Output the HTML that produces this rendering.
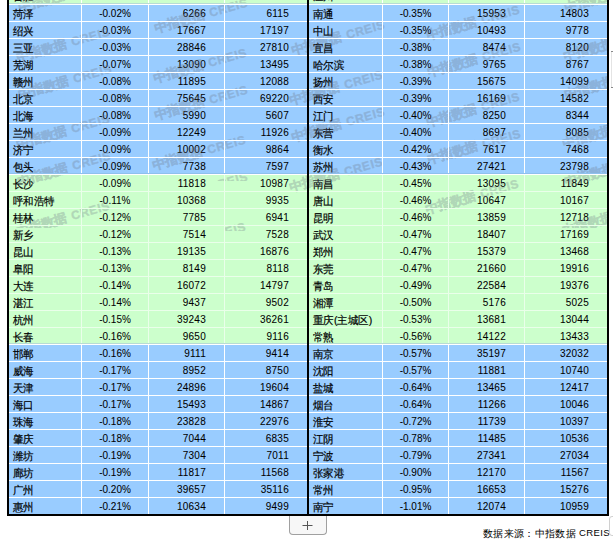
<!DOCTYPE html>
<html><head><meta charset="utf-8">
<style>
html,body{margin:0;padding:0;background:#fff;width:613px;height:542px;overflow:hidden;position:relative;font-family:"Liberation Sans",sans-serif;}
.grid{position:absolute;left:9px;top:0;width:598px;height:514px;background:#fff;}
.cell{position:absolute;overflow:hidden;color:#000;white-space:nowrap;}
.cell span{position:absolute;}
.c0 span{left:4px;top:3px;font-size:11px;letter-spacing:0;line-height:13px;-webkit-text-stroke:0.2px #000;transform:scaleX(0.95);transform-origin:0 0;}
.c1 span{left:0;right:0;text-align:center;top:3px;font-size:10px;line-height:12px;letter-spacing:0;-webkit-text-stroke:0.05px #000;}
.c2 span{right:18px;top:3px;font-size:10px;line-height:12px;letter-spacing:0.25px;-webkit-text-stroke:0.05px #000;}
.bl{position:absolute;background:#000;}
.wmbox{position:absolute;left:0;top:0;width:607px;height:228px;overflow:hidden;opacity:0.28;}
.wm{position:absolute;font-size:12px;line-height:16px;font-weight:bold;white-space:nowrap;color:#6a7282;-webkit-text-stroke:0.35px #6a7282;transform-origin:61.3px 7px;transform:rotate(-16deg);}
.wz{font-size:13px;margin-right:5px;letter-spacing:0;}
.wm{letter-spacing:0.6px;}
.plus{position:absolute;left:289px;top:516px;width:38px;height:19px;box-sizing:border-box;border:1px solid #a0a0a0;border-top:none;border-radius:0 0 4px 4px;background:#f7f7f7;}
.src{position:absolute;line-height:13px;color:#000;white-space:nowrap;}
</style></head><body>
<div class="grid"></div><div style="position:absolute;left:9px;top:175px;width:598px;height:169px;background:#eaffea"></div>
<div class="cell c0" style="left:9px;top:-13px;width:72px;height:17px;background:#ccffcc"><span>合肥</span></div><div class="cell c1" style="left:82px;top:-13px;width:66px;height:17px;background:#ccffcc"><span></span></div><div class="cell c2" style="left:149px;top:-13px;width:75px;height:17px;background:#ccffcc"><span></span></div><div class="cell c2" style="left:225px;top:-13px;width:82px;height:17px;background:#ccffcc"><span></span></div><div class="cell c0" style="left:309px;top:-13px;width:73px;height:17px;background:#ccffcc"><span>温州</span></div><div class="cell c1" style="left:383px;top:-13px;width:65px;height:17px;background:#ccffcc"><span></span></div><div class="cell c2" style="left:449px;top:-13px;width:75px;height:17px;background:#ccffcc"><span></span></div><div class="cell c2" style="left:525px;top:-13px;width:82px;height:17px;background:#ccffcc"><span></span></div><div class="cell c0" style="left:9px;top:5px;width:72px;height:16px;background:#99ccff"><span>菏泽</span></div><div class="cell c1" style="left:82px;top:5px;width:66px;height:16px;background:#99ccff"><span>-0.02%</span></div><div class="cell c2" style="left:149px;top:5px;width:75px;height:16px;background:#99ccff"><span>6266</span></div><div class="cell c2" style="left:225px;top:5px;width:82px;height:16px;background:#99ccff"><span>6115</span></div><div class="cell c0" style="left:309px;top:5px;width:73px;height:16px;background:#99ccff"><span>南通</span></div><div class="cell c1" style="left:383px;top:5px;width:65px;height:16px;background:#99ccff"><span>-0.35%</span></div><div class="cell c2" style="left:449px;top:5px;width:75px;height:16px;background:#99ccff"><span>15953</span></div><div class="cell c2" style="left:525px;top:5px;width:82px;height:16px;background:#99ccff"><span>14803</span></div><div class="cell c0" style="left:9px;top:22px;width:72px;height:16px;background:#99ccff"><span>绍兴</span></div><div class="cell c1" style="left:82px;top:22px;width:66px;height:16px;background:#99ccff"><span>-0.03%</span></div><div class="cell c2" style="left:149px;top:22px;width:75px;height:16px;background:#99ccff"><span>17667</span></div><div class="cell c2" style="left:225px;top:22px;width:82px;height:16px;background:#99ccff"><span>17197</span></div><div class="cell c0" style="left:309px;top:22px;width:73px;height:16px;background:#99ccff"><span>中山</span></div><div class="cell c1" style="left:383px;top:22px;width:65px;height:16px;background:#99ccff"><span>-0.35%</span></div><div class="cell c2" style="left:449px;top:22px;width:75px;height:16px;background:#99ccff"><span>10493</span></div><div class="cell c2" style="left:525px;top:22px;width:82px;height:16px;background:#99ccff"><span>9778</span></div><div class="cell c0" style="left:9px;top:39px;width:72px;height:16px;background:#99ccff"><span>三亚</span></div><div class="cell c1" style="left:82px;top:39px;width:66px;height:16px;background:#99ccff"><span>-0.03%</span></div><div class="cell c2" style="left:149px;top:39px;width:75px;height:16px;background:#99ccff"><span>28846</span></div><div class="cell c2" style="left:225px;top:39px;width:82px;height:16px;background:#99ccff"><span>27810</span></div><div class="cell c0" style="left:309px;top:39px;width:73px;height:16px;background:#99ccff"><span>宜昌</span></div><div class="cell c1" style="left:383px;top:39px;width:65px;height:16px;background:#99ccff"><span>-0.38%</span></div><div class="cell c2" style="left:449px;top:39px;width:75px;height:16px;background:#99ccff"><span>8474</span></div><div class="cell c2" style="left:525px;top:39px;width:82px;height:16px;background:#99ccff"><span>8120</span></div><div class="cell c0" style="left:9px;top:56px;width:72px;height:16px;background:#99ccff"><span>芜湖</span></div><div class="cell c1" style="left:82px;top:56px;width:66px;height:16px;background:#99ccff"><span>-0.07%</span></div><div class="cell c2" style="left:149px;top:56px;width:75px;height:16px;background:#99ccff"><span>13090</span></div><div class="cell c2" style="left:225px;top:56px;width:82px;height:16px;background:#99ccff"><span>13495</span></div><div class="cell c0" style="left:309px;top:56px;width:73px;height:16px;background:#99ccff"><span>哈尔滨</span></div><div class="cell c1" style="left:383px;top:56px;width:65px;height:16px;background:#99ccff"><span>-0.38%</span></div><div class="cell c2" style="left:449px;top:56px;width:75px;height:16px;background:#99ccff"><span>9765</span></div><div class="cell c2" style="left:525px;top:56px;width:82px;height:16px;background:#99ccff"><span>8767</span></div><div class="cell c0" style="left:9px;top:73px;width:72px;height:16px;background:#99ccff"><span>赣州</span></div><div class="cell c1" style="left:82px;top:73px;width:66px;height:16px;background:#99ccff"><span>-0.08%</span></div><div class="cell c2" style="left:149px;top:73px;width:75px;height:16px;background:#99ccff"><span>11895</span></div><div class="cell c2" style="left:225px;top:73px;width:82px;height:16px;background:#99ccff"><span>12088</span></div><div class="cell c0" style="left:309px;top:73px;width:73px;height:16px;background:#99ccff"><span>扬州</span></div><div class="cell c1" style="left:383px;top:73px;width:65px;height:16px;background:#99ccff"><span>-0.39%</span></div><div class="cell c2" style="left:449px;top:73px;width:75px;height:16px;background:#99ccff"><span>15675</span></div><div class="cell c2" style="left:525px;top:73px;width:82px;height:16px;background:#99ccff"><span>14099</span></div><div class="cell c0" style="left:9px;top:90px;width:72px;height:16px;background:#99ccff"><span>北京</span></div><div class="cell c1" style="left:82px;top:90px;width:66px;height:16px;background:#99ccff"><span>-0.08%</span></div><div class="cell c2" style="left:149px;top:90px;width:75px;height:16px;background:#99ccff"><span>75645</span></div><div class="cell c2" style="left:225px;top:90px;width:82px;height:16px;background:#99ccff"><span>69220</span></div><div class="cell c0" style="left:309px;top:90px;width:73px;height:16px;background:#99ccff"><span>西安</span></div><div class="cell c1" style="left:383px;top:90px;width:65px;height:16px;background:#99ccff"><span>-0.39%</span></div><div class="cell c2" style="left:449px;top:90px;width:75px;height:16px;background:#99ccff"><span>16169</span></div><div class="cell c2" style="left:525px;top:90px;width:82px;height:16px;background:#99ccff"><span>14582</span></div><div class="cell c0" style="left:9px;top:107px;width:72px;height:16px;background:#99ccff"><span>北海</span></div><div class="cell c1" style="left:82px;top:107px;width:66px;height:16px;background:#99ccff"><span>-0.08%</span></div><div class="cell c2" style="left:149px;top:107px;width:75px;height:16px;background:#99ccff"><span>5990</span></div><div class="cell c2" style="left:225px;top:107px;width:82px;height:16px;background:#99ccff"><span>5607</span></div><div class="cell c0" style="left:309px;top:107px;width:73px;height:16px;background:#99ccff"><span>江门</span></div><div class="cell c1" style="left:383px;top:107px;width:65px;height:16px;background:#99ccff"><span>-0.40%</span></div><div class="cell c2" style="left:449px;top:107px;width:75px;height:16px;background:#99ccff"><span>8250</span></div><div class="cell c2" style="left:525px;top:107px;width:82px;height:16px;background:#99ccff"><span>8344</span></div><div class="cell c0" style="left:9px;top:124px;width:72px;height:16px;background:#99ccff"><span>兰州</span></div><div class="cell c1" style="left:82px;top:124px;width:66px;height:16px;background:#99ccff"><span>-0.09%</span></div><div class="cell c2" style="left:149px;top:124px;width:75px;height:16px;background:#99ccff"><span>12249</span></div><div class="cell c2" style="left:225px;top:124px;width:82px;height:16px;background:#99ccff"><span>11926</span></div><div class="cell c0" style="left:309px;top:124px;width:73px;height:16px;background:#99ccff"><span>东营</span></div><div class="cell c1" style="left:383px;top:124px;width:65px;height:16px;background:#99ccff"><span>-0.40%</span></div><div class="cell c2" style="left:449px;top:124px;width:75px;height:16px;background:#99ccff"><span>8697</span></div><div class="cell c2" style="left:525px;top:124px;width:82px;height:16px;background:#99ccff"><span>8085</span></div><div class="cell c0" style="left:9px;top:141px;width:72px;height:16px;background:#99ccff"><span>济宁</span></div><div class="cell c1" style="left:82px;top:141px;width:66px;height:16px;background:#99ccff"><span>-0.09%</span></div><div class="cell c2" style="left:149px;top:141px;width:75px;height:16px;background:#99ccff"><span>10002</span></div><div class="cell c2" style="left:225px;top:141px;width:82px;height:16px;background:#99ccff"><span>9864</span></div><div class="cell c0" style="left:309px;top:141px;width:73px;height:16px;background:#99ccff"><span>衡水</span></div><div class="cell c1" style="left:383px;top:141px;width:65px;height:16px;background:#99ccff"><span>-0.42%</span></div><div class="cell c2" style="left:449px;top:141px;width:75px;height:16px;background:#99ccff"><span>7617</span></div><div class="cell c2" style="left:525px;top:141px;width:82px;height:16px;background:#99ccff"><span>7468</span></div><div class="cell c0" style="left:9px;top:158px;width:72px;height:16px;background:#99ccff"><span>包头</span></div><div class="cell c1" style="left:82px;top:158px;width:66px;height:16px;background:#99ccff"><span>-0.09%</span></div><div class="cell c2" style="left:149px;top:158px;width:75px;height:16px;background:#99ccff"><span>7738</span></div><div class="cell c2" style="left:225px;top:158px;width:82px;height:16px;background:#99ccff"><span>7597</span></div><div class="cell c0" style="left:309px;top:158px;width:73px;height:16px;background:#99ccff"><span>苏州</span></div><div class="cell c1" style="left:383px;top:158px;width:65px;height:16px;background:#99ccff"><span>-0.43%</span></div><div class="cell c2" style="left:449px;top:158px;width:75px;height:16px;background:#99ccff"><span>27421</span></div><div class="cell c2" style="left:525px;top:158px;width:82px;height:16px;background:#99ccff"><span>23798</span></div><div class="cell c0" style="left:9px;top:175px;width:72px;height:16px;background:#ccffcc"><span>长沙</span></div><div class="cell c1" style="left:82px;top:175px;width:66px;height:16px;background:#ccffcc"><span>-0.09%</span></div><div class="cell c2" style="left:149px;top:175px;width:75px;height:16px;background:#ccffcc"><span>11818</span></div><div class="cell c2" style="left:225px;top:175px;width:82px;height:16px;background:#ccffcc"><span>10987</span></div><div class="cell c0" style="left:309px;top:175px;width:73px;height:16px;background:#ccffcc"><span>南昌</span></div><div class="cell c1" style="left:383px;top:175px;width:65px;height:16px;background:#ccffcc"><span>-0.45%</span></div><div class="cell c2" style="left:449px;top:175px;width:75px;height:16px;background:#ccffcc"><span>13095</span></div><div class="cell c2" style="left:525px;top:175px;width:82px;height:16px;background:#ccffcc"><span>11849</span></div><div class="cell c0" style="left:9px;top:192px;width:72px;height:16px;background:#ccffcc"><span>呼和浩特</span></div><div class="cell c1" style="left:82px;top:192px;width:66px;height:16px;background:#ccffcc"><span>-0.11%</span></div><div class="cell c2" style="left:149px;top:192px;width:75px;height:16px;background:#ccffcc"><span>10368</span></div><div class="cell c2" style="left:225px;top:192px;width:82px;height:16px;background:#ccffcc"><span>9935</span></div><div class="cell c0" style="left:309px;top:192px;width:73px;height:16px;background:#ccffcc"><span>唐山</span></div><div class="cell c1" style="left:383px;top:192px;width:65px;height:16px;background:#ccffcc"><span>-0.46%</span></div><div class="cell c2" style="left:449px;top:192px;width:75px;height:16px;background:#ccffcc"><span>10647</span></div><div class="cell c2" style="left:525px;top:192px;width:82px;height:16px;background:#ccffcc"><span>10167</span></div><div class="cell c0" style="left:9px;top:209px;width:72px;height:16px;background:#ccffcc"><span>桂林</span></div><div class="cell c1" style="left:82px;top:209px;width:66px;height:16px;background:#ccffcc"><span>-0.12%</span></div><div class="cell c2" style="left:149px;top:209px;width:75px;height:16px;background:#ccffcc"><span>7785</span></div><div class="cell c2" style="left:225px;top:209px;width:82px;height:16px;background:#ccffcc"><span>6941</span></div><div class="cell c0" style="left:309px;top:209px;width:73px;height:16px;background:#ccffcc"><span>昆明</span></div><div class="cell c1" style="left:383px;top:209px;width:65px;height:16px;background:#ccffcc"><span>-0.46%</span></div><div class="cell c2" style="left:449px;top:209px;width:75px;height:16px;background:#ccffcc"><span>13859</span></div><div class="cell c2" style="left:525px;top:209px;width:82px;height:16px;background:#ccffcc"><span>12718</span></div><div class="cell c0" style="left:9px;top:226px;width:72px;height:16px;background:#ccffcc"><span>新乡</span></div><div class="cell c1" style="left:82px;top:226px;width:66px;height:16px;background:#ccffcc"><span>-0.12%</span></div><div class="cell c2" style="left:149px;top:226px;width:75px;height:16px;background:#ccffcc"><span>7514</span></div><div class="cell c2" style="left:225px;top:226px;width:82px;height:16px;background:#ccffcc"><span>7528</span></div><div class="cell c0" style="left:309px;top:226px;width:73px;height:16px;background:#ccffcc"><span>武汉</span></div><div class="cell c1" style="left:383px;top:226px;width:65px;height:16px;background:#ccffcc"><span>-0.47%</span></div><div class="cell c2" style="left:449px;top:226px;width:75px;height:16px;background:#ccffcc"><span>18407</span></div><div class="cell c2" style="left:525px;top:226px;width:82px;height:16px;background:#ccffcc"><span>17169</span></div><div class="cell c0" style="left:9px;top:243px;width:72px;height:16px;background:#ccffcc"><span>昆山</span></div><div class="cell c1" style="left:82px;top:243px;width:66px;height:16px;background:#ccffcc"><span>-0.13%</span></div><div class="cell c2" style="left:149px;top:243px;width:75px;height:16px;background:#ccffcc"><span>19135</span></div><div class="cell c2" style="left:225px;top:243px;width:82px;height:16px;background:#ccffcc"><span>16876</span></div><div class="cell c0" style="left:309px;top:243px;width:73px;height:16px;background:#ccffcc"><span>郑州</span></div><div class="cell c1" style="left:383px;top:243px;width:65px;height:16px;background:#ccffcc"><span>-0.47%</span></div><div class="cell c2" style="left:449px;top:243px;width:75px;height:16px;background:#ccffcc"><span>15379</span></div><div class="cell c2" style="left:525px;top:243px;width:82px;height:16px;background:#ccffcc"><span>13468</span></div><div class="cell c0" style="left:9px;top:260px;width:72px;height:16px;background:#ccffcc"><span>阜阳</span></div><div class="cell c1" style="left:82px;top:260px;width:66px;height:16px;background:#ccffcc"><span>-0.13%</span></div><div class="cell c2" style="left:149px;top:260px;width:75px;height:16px;background:#ccffcc"><span>8149</span></div><div class="cell c2" style="left:225px;top:260px;width:82px;height:16px;background:#ccffcc"><span>8118</span></div><div class="cell c0" style="left:309px;top:260px;width:73px;height:16px;background:#ccffcc"><span>东莞</span></div><div class="cell c1" style="left:383px;top:260px;width:65px;height:16px;background:#ccffcc"><span>-0.47%</span></div><div class="cell c2" style="left:449px;top:260px;width:75px;height:16px;background:#ccffcc"><span>21660</span></div><div class="cell c2" style="left:525px;top:260px;width:82px;height:16px;background:#ccffcc"><span>19916</span></div><div class="cell c0" style="left:9px;top:277px;width:72px;height:16px;background:#ccffcc"><span>大连</span></div><div class="cell c1" style="left:82px;top:277px;width:66px;height:16px;background:#ccffcc"><span>-0.14%</span></div><div class="cell c2" style="left:149px;top:277px;width:75px;height:16px;background:#ccffcc"><span>16072</span></div><div class="cell c2" style="left:225px;top:277px;width:82px;height:16px;background:#ccffcc"><span>14797</span></div><div class="cell c0" style="left:309px;top:277px;width:73px;height:16px;background:#ccffcc"><span>青岛</span></div><div class="cell c1" style="left:383px;top:277px;width:65px;height:16px;background:#ccffcc"><span>-0.49%</span></div><div class="cell c2" style="left:449px;top:277px;width:75px;height:16px;background:#ccffcc"><span>22584</span></div><div class="cell c2" style="left:525px;top:277px;width:82px;height:16px;background:#ccffcc"><span>19376</span></div><div class="cell c0" style="left:9px;top:294px;width:72px;height:16px;background:#ccffcc"><span>湛江</span></div><div class="cell c1" style="left:82px;top:294px;width:66px;height:16px;background:#ccffcc"><span>-0.14%</span></div><div class="cell c2" style="left:149px;top:294px;width:75px;height:16px;background:#ccffcc"><span>9437</span></div><div class="cell c2" style="left:225px;top:294px;width:82px;height:16px;background:#ccffcc"><span>9502</span></div><div class="cell c0" style="left:309px;top:294px;width:73px;height:16px;background:#ccffcc"><span>湘潭</span></div><div class="cell c1" style="left:383px;top:294px;width:65px;height:16px;background:#ccffcc"><span>-0.50%</span></div><div class="cell c2" style="left:449px;top:294px;width:75px;height:16px;background:#ccffcc"><span>5176</span></div><div class="cell c2" style="left:525px;top:294px;width:82px;height:16px;background:#ccffcc"><span>5025</span></div><div class="cell c0" style="left:9px;top:311px;width:72px;height:16px;background:#ccffcc"><span>杭州</span></div><div class="cell c1" style="left:82px;top:311px;width:66px;height:16px;background:#ccffcc"><span>-0.15%</span></div><div class="cell c2" style="left:149px;top:311px;width:75px;height:16px;background:#ccffcc"><span>39243</span></div><div class="cell c2" style="left:225px;top:311px;width:82px;height:16px;background:#ccffcc"><span>36261</span></div><div class="cell c0" style="left:309px;top:311px;width:73px;height:16px;background:#ccffcc"><span>重庆(主城区)</span></div><div class="cell c1" style="left:383px;top:311px;width:65px;height:16px;background:#ccffcc"><span>-0.53%</span></div><div class="cell c2" style="left:449px;top:311px;width:75px;height:16px;background:#ccffcc"><span>13681</span></div><div class="cell c2" style="left:525px;top:311px;width:82px;height:16px;background:#ccffcc"><span>13044</span></div><div class="cell c0" style="left:9px;top:328px;width:72px;height:16px;background:#ccffcc"><span>长春</span></div><div class="cell c1" style="left:82px;top:328px;width:66px;height:16px;background:#ccffcc"><span>-0.16%</span></div><div class="cell c2" style="left:149px;top:328px;width:75px;height:16px;background:#ccffcc"><span>9650</span></div><div class="cell c2" style="left:225px;top:328px;width:82px;height:16px;background:#ccffcc"><span>9116</span></div><div class="cell c0" style="left:309px;top:328px;width:73px;height:16px;background:#ccffcc"><span>常熟</span></div><div class="cell c1" style="left:383px;top:328px;width:65px;height:16px;background:#ccffcc"><span>-0.56%</span></div><div class="cell c2" style="left:449px;top:328px;width:75px;height:16px;background:#ccffcc"><span>14122</span></div><div class="cell c2" style="left:525px;top:328px;width:82px;height:16px;background:#ccffcc"><span>13433</span></div><div class="cell c0" style="left:9px;top:345px;width:72px;height:16px;background:#99ccff"><span>邯郸</span></div><div class="cell c1" style="left:82px;top:345px;width:66px;height:16px;background:#99ccff"><span>-0.16%</span></div><div class="cell c2" style="left:149px;top:345px;width:75px;height:16px;background:#99ccff"><span>9111</span></div><div class="cell c2" style="left:225px;top:345px;width:82px;height:16px;background:#99ccff"><span>9414</span></div><div class="cell c0" style="left:309px;top:345px;width:73px;height:16px;background:#99ccff"><span>南京</span></div><div class="cell c1" style="left:383px;top:345px;width:65px;height:16px;background:#99ccff"><span>-0.57%</span></div><div class="cell c2" style="left:449px;top:345px;width:75px;height:16px;background:#99ccff"><span>35197</span></div><div class="cell c2" style="left:525px;top:345px;width:82px;height:16px;background:#99ccff"><span>32032</span></div><div class="cell c0" style="left:9px;top:362px;width:72px;height:16px;background:#99ccff"><span>威海</span></div><div class="cell c1" style="left:82px;top:362px;width:66px;height:16px;background:#99ccff"><span>-0.17%</span></div><div class="cell c2" style="left:149px;top:362px;width:75px;height:16px;background:#99ccff"><span>8952</span></div><div class="cell c2" style="left:225px;top:362px;width:82px;height:16px;background:#99ccff"><span>8750</span></div><div class="cell c0" style="left:309px;top:362px;width:73px;height:16px;background:#99ccff"><span>沈阳</span></div><div class="cell c1" style="left:383px;top:362px;width:65px;height:16px;background:#99ccff"><span>-0.57%</span></div><div class="cell c2" style="left:449px;top:362px;width:75px;height:16px;background:#99ccff"><span>11881</span></div><div class="cell c2" style="left:525px;top:362px;width:82px;height:16px;background:#99ccff"><span>10740</span></div><div class="cell c0" style="left:9px;top:379px;width:72px;height:16px;background:#99ccff"><span>天津</span></div><div class="cell c1" style="left:82px;top:379px;width:66px;height:16px;background:#99ccff"><span>-0.17%</span></div><div class="cell c2" style="left:149px;top:379px;width:75px;height:16px;background:#99ccff"><span>24896</span></div><div class="cell c2" style="left:225px;top:379px;width:82px;height:16px;background:#99ccff"><span>19604</span></div><div class="cell c0" style="left:309px;top:379px;width:73px;height:16px;background:#99ccff"><span>盐城</span></div><div class="cell c1" style="left:383px;top:379px;width:65px;height:16px;background:#99ccff"><span>-0.64%</span></div><div class="cell c2" style="left:449px;top:379px;width:75px;height:16px;background:#99ccff"><span>13465</span></div><div class="cell c2" style="left:525px;top:379px;width:82px;height:16px;background:#99ccff"><span>12417</span></div><div class="cell c0" style="left:9px;top:396px;width:72px;height:16px;background:#99ccff"><span>海口</span></div><div class="cell c1" style="left:82px;top:396px;width:66px;height:16px;background:#99ccff"><span>-0.17%</span></div><div class="cell c2" style="left:149px;top:396px;width:75px;height:16px;background:#99ccff"><span>15493</span></div><div class="cell c2" style="left:225px;top:396px;width:82px;height:16px;background:#99ccff"><span>14867</span></div><div class="cell c0" style="left:309px;top:396px;width:73px;height:16px;background:#99ccff"><span>烟台</span></div><div class="cell c1" style="left:383px;top:396px;width:65px;height:16px;background:#99ccff"><span>-0.64%</span></div><div class="cell c2" style="left:449px;top:396px;width:75px;height:16px;background:#99ccff"><span>11266</span></div><div class="cell c2" style="left:525px;top:396px;width:82px;height:16px;background:#99ccff"><span>10046</span></div><div class="cell c0" style="left:9px;top:413px;width:72px;height:16px;background:#99ccff"><span>珠海</span></div><div class="cell c1" style="left:82px;top:413px;width:66px;height:16px;background:#99ccff"><span>-0.18%</span></div><div class="cell c2" style="left:149px;top:413px;width:75px;height:16px;background:#99ccff"><span>23828</span></div><div class="cell c2" style="left:225px;top:413px;width:82px;height:16px;background:#99ccff"><span>22976</span></div><div class="cell c0" style="left:309px;top:413px;width:73px;height:16px;background:#99ccff"><span>淮安</span></div><div class="cell c1" style="left:383px;top:413px;width:65px;height:16px;background:#99ccff"><span>-0.72%</span></div><div class="cell c2" style="left:449px;top:413px;width:75px;height:16px;background:#99ccff"><span>11739</span></div><div class="cell c2" style="left:525px;top:413px;width:82px;height:16px;background:#99ccff"><span>10397</span></div><div class="cell c0" style="left:9px;top:430px;width:72px;height:16px;background:#99ccff"><span>肇庆</span></div><div class="cell c1" style="left:82px;top:430px;width:66px;height:16px;background:#99ccff"><span>-0.18%</span></div><div class="cell c2" style="left:149px;top:430px;width:75px;height:16px;background:#99ccff"><span>7044</span></div><div class="cell c2" style="left:225px;top:430px;width:82px;height:16px;background:#99ccff"><span>6835</span></div><div class="cell c0" style="left:309px;top:430px;width:73px;height:16px;background:#99ccff"><span>江阴</span></div><div class="cell c1" style="left:383px;top:430px;width:65px;height:16px;background:#99ccff"><span>-0.78%</span></div><div class="cell c2" style="left:449px;top:430px;width:75px;height:16px;background:#99ccff"><span>11485</span></div><div class="cell c2" style="left:525px;top:430px;width:82px;height:16px;background:#99ccff"><span>10536</span></div><div class="cell c0" style="left:9px;top:447px;width:72px;height:16px;background:#99ccff"><span>潍坊</span></div><div class="cell c1" style="left:82px;top:447px;width:66px;height:16px;background:#99ccff"><span>-0.19%</span></div><div class="cell c2" style="left:149px;top:447px;width:75px;height:16px;background:#99ccff"><span>7304</span></div><div class="cell c2" style="left:225px;top:447px;width:82px;height:16px;background:#99ccff"><span>7011</span></div><div class="cell c0" style="left:309px;top:447px;width:73px;height:16px;background:#99ccff"><span>宁波</span></div><div class="cell c1" style="left:383px;top:447px;width:65px;height:16px;background:#99ccff"><span>-0.79%</span></div><div class="cell c2" style="left:449px;top:447px;width:75px;height:16px;background:#99ccff"><span>27341</span></div><div class="cell c2" style="left:525px;top:447px;width:82px;height:16px;background:#99ccff"><span>27034</span></div><div class="cell c0" style="left:9px;top:464px;width:72px;height:16px;background:#99ccff"><span>廊坊</span></div><div class="cell c1" style="left:82px;top:464px;width:66px;height:16px;background:#99ccff"><span>-0.19%</span></div><div class="cell c2" style="left:149px;top:464px;width:75px;height:16px;background:#99ccff"><span>11817</span></div><div class="cell c2" style="left:225px;top:464px;width:82px;height:16px;background:#99ccff"><span>11568</span></div><div class="cell c0" style="left:309px;top:464px;width:73px;height:16px;background:#99ccff"><span>张家港</span></div><div class="cell c1" style="left:383px;top:464px;width:65px;height:16px;background:#99ccff"><span>-0.90%</span></div><div class="cell c2" style="left:449px;top:464px;width:75px;height:16px;background:#99ccff"><span>12170</span></div><div class="cell c2" style="left:525px;top:464px;width:82px;height:16px;background:#99ccff"><span>11567</span></div><div class="cell c0" style="left:9px;top:481px;width:72px;height:16px;background:#99ccff"><span>广州</span></div><div class="cell c1" style="left:82px;top:481px;width:66px;height:16px;background:#99ccff"><span>-0.20%</span></div><div class="cell c2" style="left:149px;top:481px;width:75px;height:16px;background:#99ccff"><span>39657</span></div><div class="cell c2" style="left:225px;top:481px;width:82px;height:16px;background:#99ccff"><span>35116</span></div><div class="cell c0" style="left:309px;top:481px;width:73px;height:16px;background:#99ccff"><span>常州</span></div><div class="cell c1" style="left:383px;top:481px;width:65px;height:16px;background:#99ccff"><span>-0.95%</span></div><div class="cell c2" style="left:449px;top:481px;width:75px;height:16px;background:#99ccff"><span>16653</span></div><div class="cell c2" style="left:525px;top:481px;width:82px;height:16px;background:#99ccff"><span>15276</span></div><div class="cell c0" style="left:9px;top:498px;width:72px;height:16px;background:#99ccff"><span>惠州</span></div><div class="cell c1" style="left:82px;top:498px;width:66px;height:16px;background:#99ccff"><span>-0.21%</span></div><div class="cell c2" style="left:149px;top:498px;width:75px;height:16px;background:#99ccff"><span>10634</span></div><div class="cell c2" style="left:225px;top:498px;width:82px;height:16px;background:#99ccff"><span>9499</span></div><div class="cell c0" style="left:309px;top:498px;width:73px;height:16px;background:#99ccff"><span>南宁</span></div><div class="cell c1" style="left:383px;top:498px;width:65px;height:16px;background:#99ccff"><span>-1.01%</span></div><div class="cell c2" style="left:449px;top:498px;width:75px;height:16px;background:#99ccff"><span>12074</span></div><div class="cell c2" style="left:525px;top:498px;width:82px;height:16px;background:#99ccff"><span>10959</span></div>
<div class="wmbox"><div class="wm" style="left:15.9px;top:-17.3px"><span class="wz">中指数据</span>CREIS</div><div class="wm" style="left:14.3px;top:32.5px"><span class="wz">中指数据</span>CREIS</div><div class="wm" style="left:15.5px;top:69.7px"><span class="wz">中指数据</span>CREIS</div><div class="wm" style="left:13.9px;top:119.5px"><span class="wz">中指数据</span>CREIS</div><div class="wm" style="left:15.1px;top:156.7px"><span class="wz">中指数据</span>CREIS</div><div class="wm" style="left:13.5px;top:206.5px"><span class="wz">中指数据</span>CREIS</div><div class="wm" style="left:152.4px;top:4.4px"><span class="wz">中指数据</span>CREIS</div><div class="wm" style="left:150.8px;top:54.2px"><span class="wz">中指数据</span>CREIS</div><div class="wm" style="left:152.0px;top:91.4px"><span class="wz">中指数据</span>CREIS</div><div class="wm" style="left:150.4px;top:141.2px"><span class="wz">中指数据</span>CREIS</div><div class="wm" style="left:288.9px;top:26.1px"><span class="wz">中指数据</span>CREIS</div><div class="wm" style="left:287.3px;top:75.9px"><span class="wz">中指数据</span>CREIS</div><div class="wm" style="left:288.5px;top:113.1px"><span class="wz">中指数据</span>CREIS</div><div class="wm" style="left:286.9px;top:162.9px"><span class="wz">中指数据</span>CREIS</div><div class="wm" style="left:424.2px;top:10.6px"><span class="wz">中指数据</span>CREIS</div><div class="wm" style="left:425.4px;top:47.8px"><span class="wz">中指数据</span>CREIS</div><div class="wm" style="left:423.8px;top:97.6px"><span class="wz">中指数据</span>CREIS</div><div class="wm" style="left:425.0px;top:134.8px"><span class="wz">中指数据</span>CREIS</div><div class="wm" style="left:423.4px;top:184.6px"><span class="wz">中指数据</span>CREIS</div><div class="wm" style="left:562.3px;top:-17.5px"><span class="wz">中指数据</span>CREIS</div><div class="wm" style="left:560.7px;top:32.3px"><span class="wz">中指数据</span>CREIS</div><div class="wm" style="left:561.9px;top:69.5px"><span class="wz">中指数据</span>CREIS</div><div class="wm" style="left:560.3px;top:119.3px"><span class="wz">中指数据</span>CREIS</div><div class="wm" style="left:561.5px;top:156.5px"><span class="wz">中指数据</span>CREIS</div><div class="wm" style="left:559.9px;top:206.3px"><span class="wz">中指数据</span>CREIS</div></div>
<div style="position:absolute;left:215px;top:170px;width:35px;height:11px;overflow:hidden;opacity:0.28"><div class="wm" style="left:-63.4px;top:8.4px"><span class="wz">中指数据</span>CREIS</div></div><div style="position:absolute;left:225px;top:219px;width:25px;height:12px;overflow:hidden;opacity:0.28"><div class="wm" style="left:-75.0px;top:9.2px"><span class="wz">中指数据</span>CREIS</div></div>
<div style="position:absolute;left:9px;top:4px;width:598px;height:1px;background:#ffffff"></div><div style="position:absolute;left:9px;top:21px;width:598px;height:1px;background:#ffffff"></div><div style="position:absolute;left:9px;top:38px;width:598px;height:1px;background:#ffffff"></div><div style="position:absolute;left:9px;top:55px;width:598px;height:1px;background:#ffffff"></div><div style="position:absolute;left:9px;top:72px;width:598px;height:1px;background:#ffffff"></div><div style="position:absolute;left:9px;top:89px;width:598px;height:1px;background:#ffffff"></div><div style="position:absolute;left:9px;top:106px;width:598px;height:1px;background:#ffffff"></div><div style="position:absolute;left:9px;top:123px;width:598px;height:1px;background:#ffffff"></div><div style="position:absolute;left:9px;top:140px;width:598px;height:1px;background:#ffffff"></div><div style="position:absolute;left:9px;top:157px;width:598px;height:1px;background:#ffffff"></div><div style="position:absolute;left:9px;top:174px;width:598px;height:1px;background:#ffffff"></div><div style="position:absolute;left:9px;top:191px;width:598px;height:1px;background:#eaffea"></div><div style="position:absolute;left:9px;top:208px;width:598px;height:1px;background:#eaffea"></div><div style="position:absolute;left:9px;top:225px;width:598px;height:1px;background:#eaffea"></div><div style="position:absolute;left:81px;top:0;width:1px;height:175px;background:#fff"></div><div style="position:absolute;left:81px;top:175px;width:1px;height:53px;background:#eaffea"></div><div style="position:absolute;left:148px;top:0;width:1px;height:175px;background:#fff"></div><div style="position:absolute;left:148px;top:175px;width:1px;height:53px;background:#eaffea"></div><div style="position:absolute;left:224px;top:0;width:1px;height:175px;background:#fff"></div><div style="position:absolute;left:224px;top:175px;width:1px;height:53px;background:#eaffea"></div><div style="position:absolute;left:382px;top:0;width:1px;height:175px;background:#fff"></div><div style="position:absolute;left:382px;top:175px;width:1px;height:53px;background:#eaffea"></div><div style="position:absolute;left:448px;top:0;width:1px;height:175px;background:#fff"></div><div style="position:absolute;left:448px;top:175px;width:1px;height:53px;background:#eaffea"></div><div style="position:absolute;left:524px;top:0;width:1px;height:175px;background:#fff"></div><div style="position:absolute;left:524px;top:175px;width:1px;height:53px;background:#eaffea"></div>
<div style="position:absolute;left:9px;top:3px;width:598px;height:1px;background:#b8dcd4"></div><div style="position:absolute;left:9px;top:173px;width:598px;height:1px;background:#8fc0ec"></div><div style="position:absolute;left:9px;top:343px;width:598px;height:1px;background:#b8dcd4"></div>
<div class="bl" style="left:7px;top:0;width:2px;height:516px"></div>
<div class="bl" style="left:307px;top:0;width:2px;height:516px"></div>
<div class="bl" style="left:607px;top:0;width:2px;height:516px"></div>
<div class="bl" style="left:7px;top:514px;width:602px;height:2px"></div>
<div class="plus"><svg width="36" height="17" style="position:absolute;left:-1px;top:0"><path d="M13.5 9.5h10M18.5 5v9" stroke="#555" stroke-width="1" fill="none"/></svg></div>
<div class="src" style="left:483px;top:527px;font-size:10px;letter-spacing:0.35px">数据来源：中指数据</div><div class="src" style="left:579px;top:526px;font-size:9.5px;letter-spacing:0.4px">CREIS</div><div style="position:absolute;left:609px;top:516px;width:10px;height:20px;box-sizing:border-box;border:1px solid #d0d0d0;border-radius:3px"></div><div style="position:absolute;left:611px;top:51px;width:1px;height:37px;background:#e4e4e4"></div><div style="position:absolute;left:611px;top:51px;width:2px;height:1px;background:#888"></div><div style="position:absolute;left:611px;top:87px;width:2px;height:1px;background:#888"></div>
</body></html>
